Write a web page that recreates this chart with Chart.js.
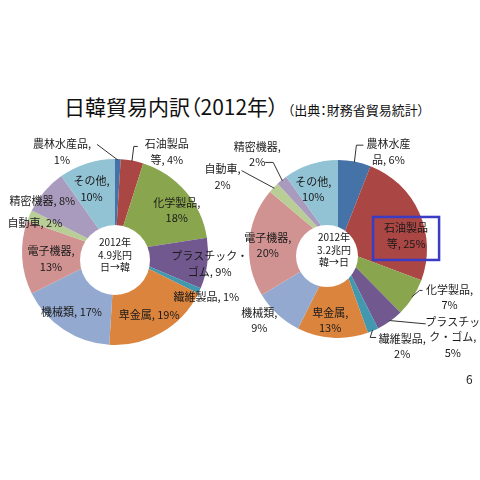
<!DOCTYPE html>
<html>

<head>
    <meta charset="UTF-8">
    <title>日韓貿易内訳（2012年）</title>
    <style>
        body {
            margin: 0;
            background: #fff;
            font-family: "Noto Sans CJK JP", sans-serif;
        }

        #page {
            position: relative;
            width: 480px;
            height: 480px;
            overflow: hidden;
        }

        #title {
            position: absolute;
            left: 64px;
            top: 92px;
            font-size: 21px;
            line-height: 28px;
            color: #111;
            white-space: nowrap;
            font-feature-settings: "palt";
        }

        #title small {
            font-size: 13px;
            margin-left: 9px;
        }

        canvas {
            position: absolute;
        }

        #left-chart {
            left: 0;
            top: 130px;
        }

        #right-chart {
            left: 200px;
            top: 130px;
        }

        #page-no {
            position: absolute;
            left: 466px;
            top: 370px;
            font-size: 12px;
            color: #222;
        }
    </style>
</head>

<body>
    <div id="page">
        <div id="title">日韓貿易内訳（2012年）<small>（出典：財務省貿易統計）</small></div>
        <canvas id="left-chart" width="250" height="250"></canvas>
        <canvas id="right-chart" width="280" height="250"></canvas>
        <div id="page-no">6</div>
    </div>

    <script src="https://cdn.jsdelivr.net/npm/chart.js"></script>
    <script>
        // 品目と構成比（%）
        const categories = ["農林水産品", "石油製品等", "化学製品", "プラスチック・ゴム", "繊維製品", "卑金属",
            "機械類", "電子機器", "自動車", "精密機器", "その他"];
        const exportShares = [1, 4, 18, 9, 1, 19, 17, 13, 2, 8, 10];   // 日→韓
        const importShares = [6, 25, 7, 5, 2, 13, 9, 20, 2, 2, 10];    // 韓→日
        const colors = ["#4572A7", "#AA4643", "#89A54E", "#71588F", "#4198AF", "#DB843D",
            "#93A9CF", "#D19392", "#B9CD96", "#A99BBD", "#92C3D4"];

        const exportCenter = ["2012年", "4.9兆円", "日→韓"];
        const importCenter = ["2012年", "3.2兆円", "韓→日"];

        // ラベル文字列（{v} に値が入る）
        const exportLabels = ["農林水産品,\n{v}%", "石油製品\n等, {v}%", "化学製品,\n{v}%", "プラスチック・\nゴム, {v}%",
            "繊維製品, {v}%", "卑金属, {v}%", "機械類, {v}%", "電子機器,\n{v}%", "自動車, {v}%", "精密機器, {v}%", "その他,\n{v}%"];
        const importLabels = ["農林水産\n品, {v}%", "石油製品\n等, {v}%", "化学製品,\n{v}%", "プラスチッ\nク・ゴム,\n{v}%",
            "繊維製品,\n{v}%", "卑金属,\n{v}%", "機械類,\n{v}%", "電子機器,\n{v}%", "自動車,\n{v}%", "精密機器,\n{v}%", "その他,\n{v}%"];

        // ラベル位置：扇形の中央(半径0.69)からのずらし量
        const exportPlace = [[-55, -36], [40, -37], [13, 0], [31, 4], [33, 18], [2, 7], [-8, 6], [0, 3], [-21, -4], [-24, -9], [-4, -2]];
        const importPlace = [[39, -37], [12, 12], [60, 15], [79, 38], [40, 41], [-4, 10], [-37, 26], [-9, 1], [-71, -30], [-42, -47], [-6, -1]];

        // 引き出し線：ラベル中心からの終点と折れ位置
        const exportLeaders = { 0: [35, -7.5, 0], 1: [-29, -5.5, -4] };
        const importLeaders = { 0: [-25, -6.5, -7], 2: [-27, -7, -3], 3: [-27, -13, 0], 4: [-26, -9, -6], 8: [19, -6, 0], 9: [8, 8, 8] };

        function makeLabels(cfg) {
            return {
                id: "sliceLabels",
                afterDatasetsDraw(chart) {
                    const ctx = chart.ctx;
                    const arcs = chart.getDatasetMeta(0).data;
                    const vals = chart.data.datasets[0].data;
                    const cx = arcs[0].x, cy = arcs[0].y, R = arcs[0].outerRadius;

                    ctx.save();
                    // 中央の白い円
                    ctx.fillStyle = "#fff";
                    ctx.beginPath();
                    ctx.arc(cx + cfg.hole[0], cy + cfg.hole[1], cfg.hole[2], 0, Math.PI * 2);
                    ctx.fill();

                    ctx.fillStyle = "#1a1a1a";
                    ctx.textAlign = "center";
                    ctx.textBaseline = "middle";
                    ctx.font = "10px 'Noto Sans CJK JP'";
                    cfg.center.forEach((t, i) => {
                        ctx.fillText(t, cx + cfg.textAt[0], cy + cfg.textAt[1] + (i - 1) * 12.5);
                    });

                    ctx.font = "11px 'Noto Sans CJK JP'";
                    ctx.strokeStyle = "#333";
                    ctx.lineWidth = 1;
                    arcs.forEach((arc, i) => {
                        const mid = (arc.startAngle + arc.endAngle) / 2;
                        const lx = cx + Math.cos(mid) * R * 0.69 + cfg.place[i][0];
                        const ly = cy + Math.sin(mid) * R * 0.69 + cfg.place[i][1];
                        const lines = cfg.labels[i].replace("{v}", vals[i]).split("\n");
                        lines.forEach((t, k) => {
                            ctx.fillText(t, lx, ly + (k - (lines.length - 1) / 2) * 15.5);
                        });
                        const ld = cfg.leaders[i];
                        if (ld) {
                            const ex = lx + ld[0], ey = ly + ld[1];
                            ctx.beginPath();
                            ctx.moveTo(cx + Math.cos(mid) * (R - 1), cy + Math.sin(mid) * (R - 1));
                            ctx.lineTo(ex + ld[2], ey);
                            ctx.lineTo(ex, ey);
                            ctx.stroke();
                        }
                        if (cfg.box === i) {
                            ctx.strokeStyle = "#3B3BC4";
                            ctx.lineWidth = 2.5;
                            ctx.strokeRect(lx - 33, ly - 19, 66, 43);
                            ctx.strokeStyle = "#333";
                            ctx.lineWidth = 1;
                        }
                    });
                    ctx.restore();
                }
            };
        }

        function drawPie(canvasId, values, padding, cfg) {
            return new Chart(document.getElementById(canvasId), {
                type: "pie",
                data: {
                    labels: categories,
                    datasets: [{
                        data: values,
                        backgroundColor: colors,
                        borderWidth: 0
                    }]
                },
                options: {
                    responsive: false,
                    animation: false,
                    layout: { padding: padding },
                    plugins: {
                        legend: { display: false },
                        tooltip: { enabled: false }
                    }
                },
                plugins: [makeLabels(cfg)]
            });
        }

        drawPie("left-chart", exportShares, { left: 22, right: 42, top: 29, bottom: 35 }, {
            labels: exportLabels, place: exportPlace, leaders: exportLeaders,
            center: exportCenter, hole: [0, 8, 35], textAt: [0, 3]
        });

        drawPie("right-chart", importShares, { left: 49, right: 53, top: 30, bottom: 42 }, {
            labels: importLabels, place: importPlace, leaders: importLeaders,
            center: importCenter, hole: [-11, 7, 31], textAt: [-4, 1], box: 1
        });
    </script>
</body>

</html>
